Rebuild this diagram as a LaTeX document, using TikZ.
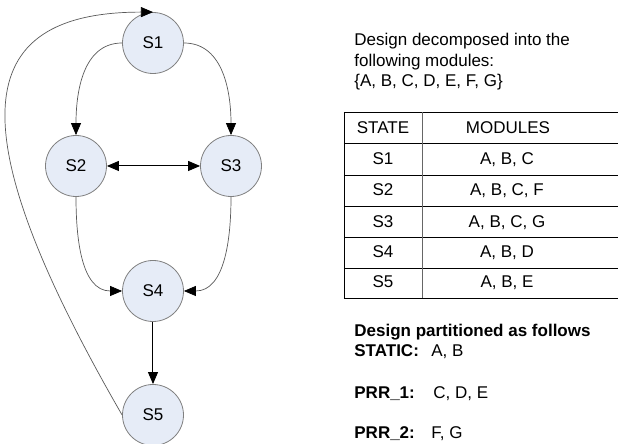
\documentclass[tikz,border=0pt]{standalone}
\usepackage{fontspec}
\setmainfont{Liberation Sans}
\usetikzlibrary{arrows.meta}
\definecolor{stfill}{HTML}{E6ECF7}
\begin{document}
\begin{tikzpicture}[x=0.5pt,y=0.5pt,
    font=\fontsize{8.5}{10.5}\selectfont,
    st/.style={circle,draw=black!50,fill=stfill,minimum size=30.5pt,inner sep=0pt},
    tip/.tip={Triangle[length=6pt,width=5pt,color=black,fill=black]},
    txt/.style={anchor=base west,inner sep=0pt},
    cell/.style={anchor=base,inner sep=0pt}]
      \useasboundingbox (0,0) rectangle (618,444);
      \draw
        (153,401) node[st] (S1){S1}
        (76,278) node[st] (S2){S2}
        (231,278) node[st] (S3){S3}
        (153,153) node[st] (S4){S4}
        (153,29) node[st] (S5){S5};
      \begin{scope}[-{tip},draw=black!65,line width=0.35pt]
        \draw (S1.west) to[out=180,in=90] (S2.north);
        \draw (S1.east) to[out=0,in=90] (S3.north);
        \draw (S2.south) to[out=-90,in=180] (S4.west);
        \draw (S3.south) to[out=-90,in=0] (S4.east);
        \draw (S5.west) .. controls +(120:165pt) and +(180:92pt) .. (S1.north);
      \end{scope}
      \begin{scope}[line width=0.5pt]
        \draw[{tip}-{tip}] (S2) to (S3);
        \draw[-{tip}] (S4) to (S5);
      \end{scope}
      % modules
      \node[txt] (d1) at (354,398) {Design decomposed into the};
      \node[txt] (d2) at (354,377) {following modules:};
      \node[txt] (d3) at (354,357) {\{A, B, C, D, E, F, G\}};
      % table
      \draw (344,332) -- (618,332);
      \draw (344,301) -- (618,301);
      \draw (344,269) -- (618,269);
      \draw (344,238) -- (618,238);
      \draw (344,207) -- (618,207);
      \draw (344,176) -- (618,176);
      \draw (344,146) -- (618,146);
      \draw (344,332) -- (344,146);
      \draw[black!60] (422,332) -- (422,146);
      \node[cell] (h1) at (383,310) {STATE};
      \node[cell] (h2) at (508,310) {MODULES};
      \node[cell] (r1) at (383,279) {S1};
      \node[cell] (m1) at (507,279) {A, B, C};
      \node[cell] (r2) at (383,248) {S2};
      \node[cell] (m2) at (507,248) {A, B, C, F};
      \node[cell] (r3) at (383,216) {S3};
      \node[cell] (m3) at (507,216) {A, B, C, G};
      \node[cell] (r4) at (383,186) {S4};
      \node[cell] (m4) at (507,186) {A, B, D};
      \node[cell] (r5) at (383,156) {S5};
      \node[cell] (m5) at (507,156) {A, B, E};
      % partitions
      \node[txt] (p0) at (354,107) {\bfseries Design partitioned as follows};
      \node[txt] (p1) at (354,87) {\bfseries STATIC:};
      \node[txt] (v1) at (431,87) {A, B};
      \node[txt] (p2) at (354,45) {\bfseries PRR\_1:};
      \node[txt] (v2) at (433,45) {C, D, E};
      \node[txt] (p3) at (354,5) {\bfseries PRR\_2:};
      \node[txt] (v3) at (431,5) {F, G};
    \end{tikzpicture}
\end{document}
